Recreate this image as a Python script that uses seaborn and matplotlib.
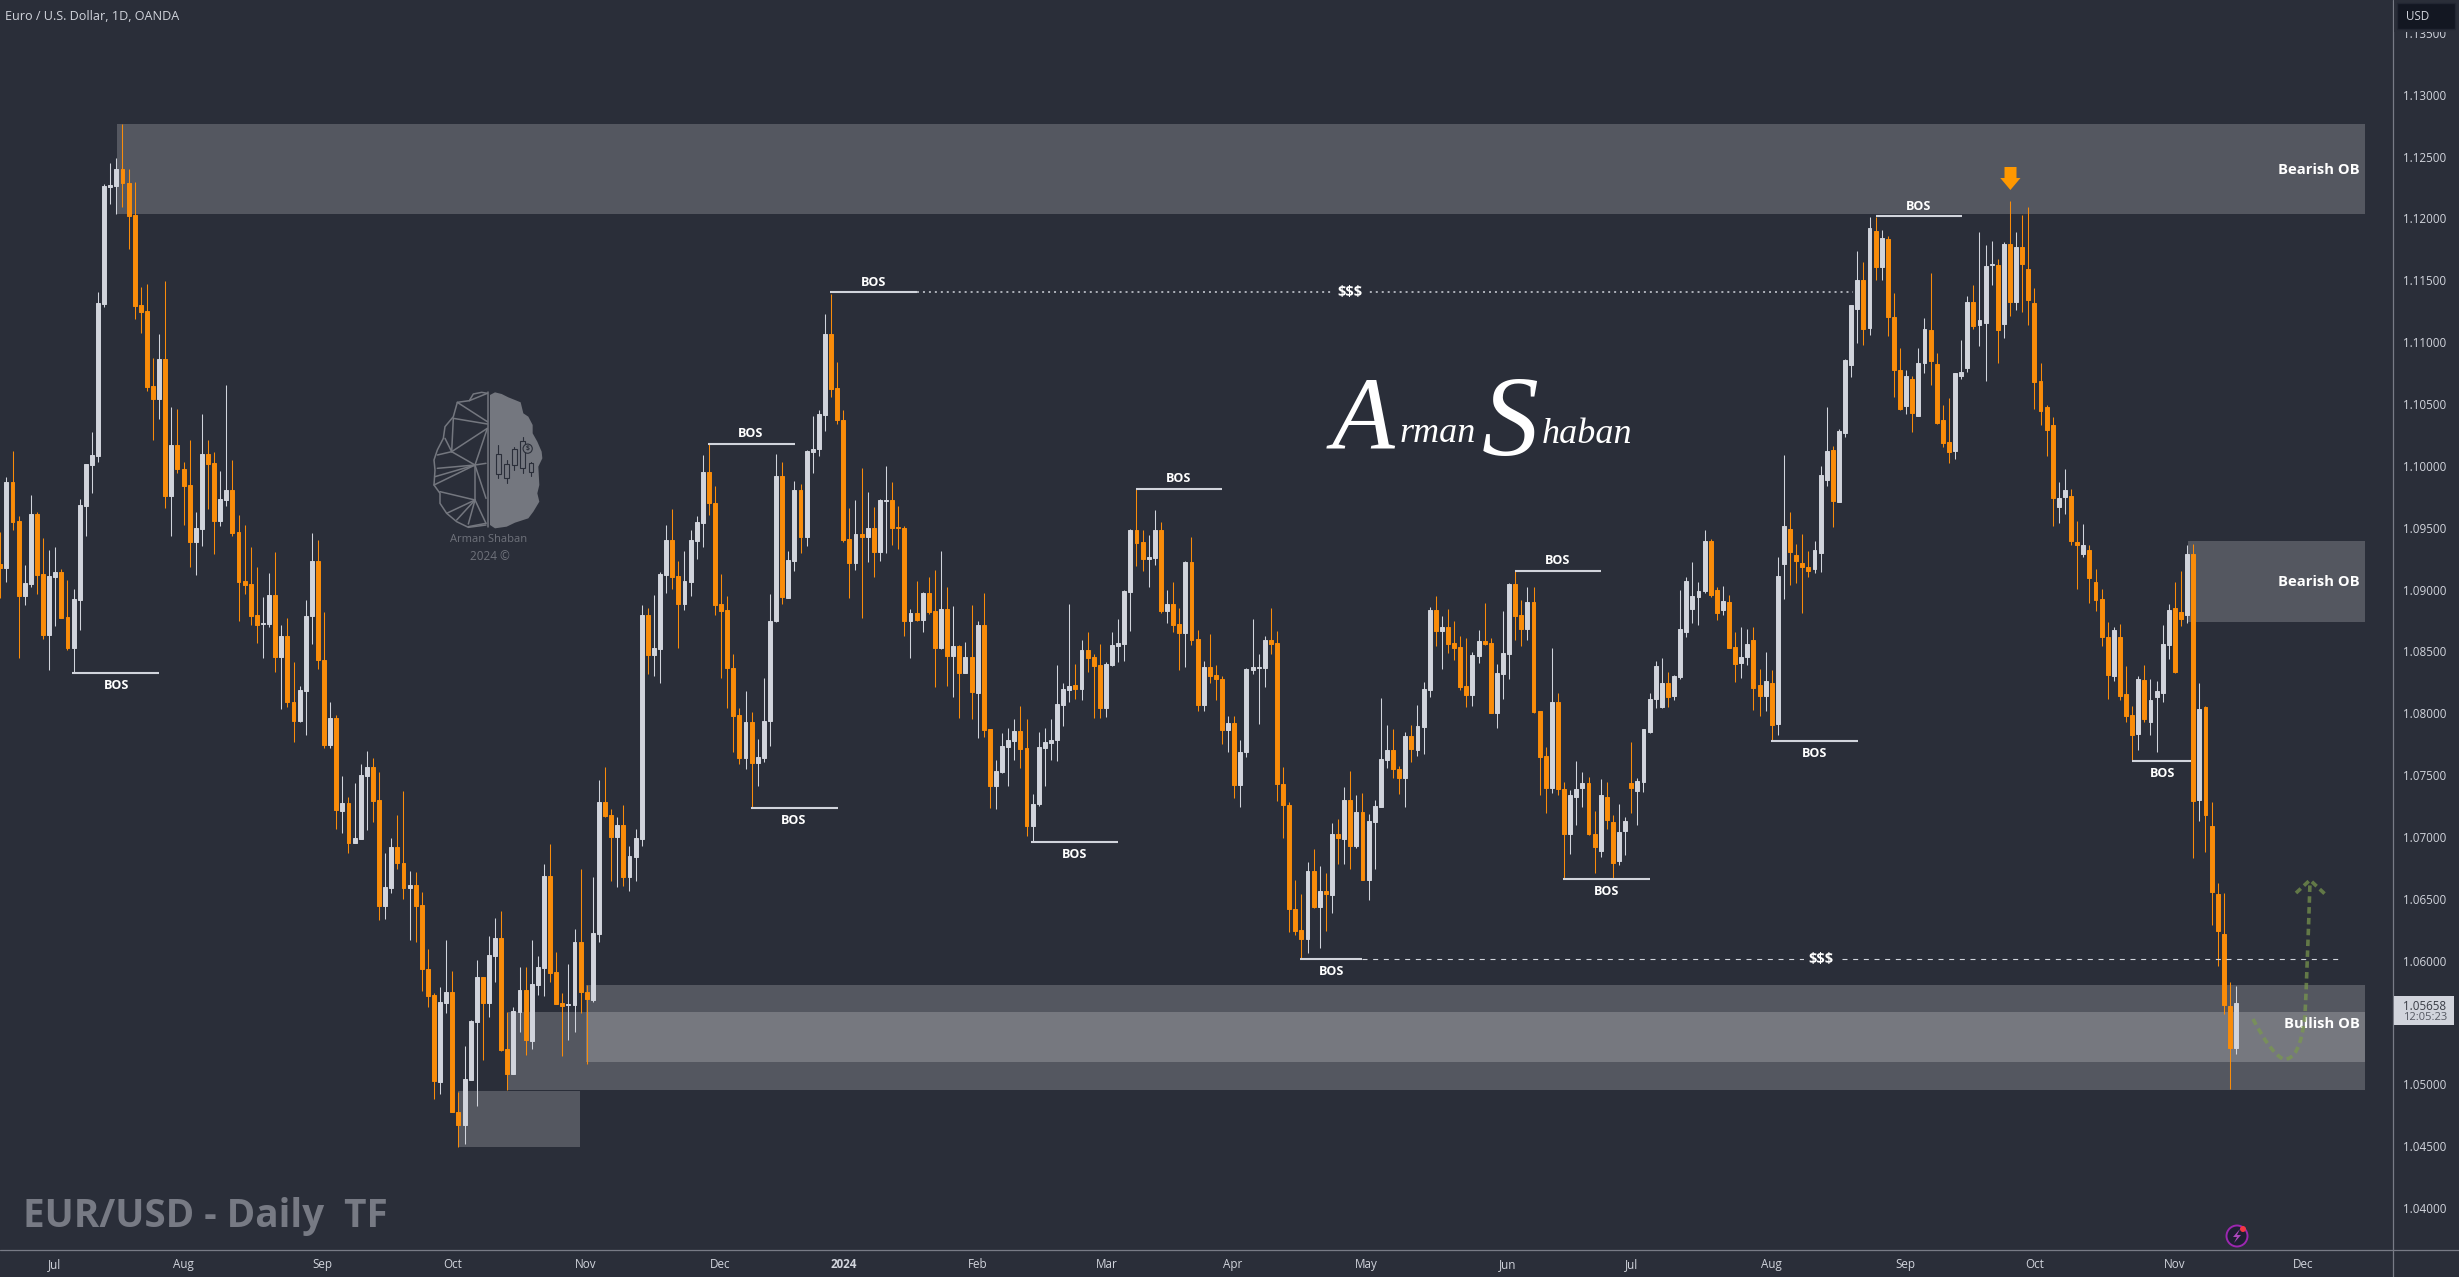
import matplotlib
matplotlib.use("Agg")
import matplotlib.pyplot as plt
import numpy as np
import pandas as pd
import seaborn as sns
from matplotlib.lines import Line2D
from matplotlib.patches import Circle, PathPatch, Polygon, Rectangle
from matplotlib.path import Path
from matplotlib.transforms import Affine2D

# EUR/USD daily candles, left to right
opens = [
    1.09206, 1.09177, 1.09867, 1.09551, 1.08950, 1.09045, 1.09611, 1.09123, 1.08632, 1.09104,
    1.09139, 1.08775, 1.08527, 1.08915, 1.09678, 1.10010, 1.10080, 1.11309, 1.12255, 1.12263,
    1.12400, 1.12284, 1.12028, 1.11298, 1.11252, 1.10646, 1.10543, 1.10861, 1.09759, 1.10166,
    1.09972, 1.09843, 1.09387, 1.09490, 1.10096, 1.10020, 1.09554, 1.09724, 1.09802, 1.09462,
    1.09066, 1.09042, 1.08791, 1.08721, 1.08721, 1.08956, 1.08455, 1.08624, 1.08093, 1.07940,
    1.08183, 1.08783, 1.09231, 1.08427, 1.07747, 1.07963, 1.07213, 1.07276, 1.06951, 1.06986,
    1.07496, 1.07565, 1.07300, 1.06438, 1.06588, 1.06920, 1.06787, 1.06588, 1.06613, 1.06449,
    1.05929, 1.05719, 1.05021, 1.05660, 1.05747, 1.04773, 1.04669, 1.05039, 1.05506, 1.05869,
    1.05660, 1.06037, 1.06180, 1.05286, 1.05084, 1.05587, 1.05761, 1.05353, 1.05806, 1.05943,
    1.06682, 1.05908, 1.05660, 1.05639, 1.05642, 1.06152, 1.05747, 1.05681, 1.06218, 1.07283,
    1.07178, 1.06997, 1.07098, 1.06675, 1.06840, 1.06986, 1.08794, 1.08474, 1.08522, 1.09117,
    1.09402, 1.09107, 1.08884, 1.09063, 1.09395, 1.09539, 1.09951, 1.09699, 1.08881, 1.08833,
    1.08366, 1.07982, 1.07637, 1.07928, 1.07599, 1.07637, 1.07937, 1.08743, 1.09916, 1.08932,
    1.09229, 1.09804, 1.09424, 1.10115, 1.10137, 1.10412, 1.11067, 1.10626, 1.10370, 1.09405,
    1.09213, 1.09450, 1.09421, 1.09501, 1.09302, 1.09718, 1.09728, 1.09507, 1.09501, 1.08749,
    1.08813, 1.08753, 1.08973, 1.08823, 1.08529, 1.08842, 1.08462, 1.08542, 1.08324, 1.08452,
    1.08164, 1.08717, 1.07870, 1.07410, 1.07525, 1.07726, 1.07774, 1.07854, 1.07717, 1.07087,
    1.07263, 1.07720, 1.07758, 1.07781, 1.08068, 1.08190, 1.08225, 1.08196, 1.08510, 1.08452,
    1.08388, 1.08043, 1.08388, 1.08545, 1.08558, 1.08980, 1.09482, 1.09386, 1.09251, 1.09255,
    1.09482, 1.08826, 1.08884, 1.08721, 1.08647, 1.09221, 1.08599, 1.08068, 1.08372, 1.08308,
    1.08276, 1.07867, 1.07925, 1.07420, 1.07690, 1.08350, 1.08366, 1.08366, 1.08592, 1.08565,
    1.07428, 1.07258, 1.06417, 1.06248, 1.06175, 1.06725, 1.06434, 1.06560, 1.06533, 1.07021,
    1.06986, 1.07299, 1.06927, 1.07204, 1.06652, 1.07124, 1.07245, 1.07622, 1.07703, 1.07549,
    1.07479, 1.07816, 1.07703, 1.07892, 1.08188, 1.08835, 1.08665, 1.08698, 1.08565, 1.08533,
    1.08221, 1.08148, 1.08466, 1.08584, 1.08565, 1.08005, 1.08317, 1.08482, 1.09045, 1.08795,
    1.08684, 1.08900, 1.08018, 1.07652, 1.07396, 1.08091, 1.07385, 1.07021, 1.07326, 1.07393,
    1.07434, 1.07024, 1.06886, 1.07320, 1.07118, 1.06806, 1.07051, 1.07434, 1.07372, 1.07447,
    1.07849, 1.08115, 1.08053, 1.08242, 1.08140, 1.08296, 1.08657, 1.08843, 1.08943, 1.08989,
    1.09393, 1.08997, 1.08835, 1.08897, 1.08533, 1.08409, 1.08458, 1.08590, 1.08229, 1.08140,
    1.08242, 1.07913, 1.09207, 1.09487, 1.09280, 1.09216, 1.09179, 1.09164, 1.09297, 1.09886,
    1.10126, 1.09707, 1.10267, 1.10816, 1.11272, 1.11503, 1.11116, 1.11898, 1.11609, 1.11835,
    1.11200, 1.10775, 1.10484, 1.10703, 1.10406, 1.10833, 1.11098, 1.10821, 1.10371, 1.10195,
    1.10123, 1.10726, 1.10792, 1.11324, 1.11142, 1.11156, 1.11624, 1.11624, 1.11148, 1.11791,
    1.11324, 1.11768, 1.11589, 1.11315, 1.10683, 1.10475, 1.10328, 1.09669, 1.09747, 1.09756,
    1.09381, 1.09291, 1.09323, 1.09063, 1.08923, 1.08614, 1.08302, 1.08614, 1.08154, 1.07989,
    1.07829, 1.08266, 1.07933, 1.08134, 1.08162, 1.08554, 1.08847, 1.08815, 1.08795, 1.09291,
    1.07296, 1.08053, 1.07092, 1.06535, 1.06219, 1.05630, 1.05297,
]
highs = [
    1.09468, 1.09907, 1.10120, 1.09595, 1.09198, 1.09764, 1.09630, 1.09414, 1.09320, 1.09347,
    1.09163, 1.09077, 1.09002, 1.09729, 1.10015, 1.10276, 1.11408, 1.12279, 1.12451, 1.12486,
    1.12761, 1.12400, 1.12295, 1.11443, 1.11470, 1.10869, 1.11066, 1.11495, 1.10473, 1.10457,
    1.10031, 1.10209, 1.09627, 1.10419, 1.10209, 1.10112, 1.09958, 1.10654, 1.10047, 1.09603,
    1.09522, 1.09341, 1.09182, 1.08942, 1.09131, 1.09301, 1.08711, 1.08767, 1.08411, 1.08220,
    1.08915, 1.09454, 1.09400, 1.08818, 1.08089, 1.07984, 1.07492, 1.07321, 1.07433, 1.07590,
    1.07694, 1.07642, 1.07527, 1.06874, 1.06993, 1.07178, 1.07370, 1.06728, 1.06717, 1.06553,
    1.06096, 1.05740, 1.05785, 1.06169, 1.05915, 1.04937, 1.05314, 1.05520, 1.06002, 1.05869,
    1.06201, 1.06344, 1.06403, 1.05583, 1.05628, 1.05946, 1.05946, 1.06169, 1.06037, 1.06780,
    1.06944, 1.06072, 1.05740, 1.05974, 1.06253, 1.06745, 1.05800, 1.06675, 1.07461, 1.07565,
    1.07223, 1.07161, 1.07255, 1.06927, 1.07066, 1.08874, 1.08852, 1.08954, 1.09139, 1.09523,
    1.09651, 1.09229, 1.09309, 1.09485, 1.09593, 1.10089, 1.10178, 1.09836, 1.09123, 1.08948,
    1.08478, 1.08046, 1.08177, 1.08011, 1.07790, 1.08286, 1.08964, 1.10092, 1.10035, 1.09309,
    1.09875, 1.09852, 1.10131, 1.10402, 1.10450, 1.11224, 1.11393, 1.10840, 1.10450, 1.09661,
    1.09724, 1.09983, 1.09788, 1.09667, 1.09731, 1.09996, 1.09868, 1.09677, 1.09513, 1.08842,
    1.09069, 1.08980, 1.09101, 1.09155, 1.09315, 1.09021, 1.08868, 1.08548, 1.08573, 1.08874,
    1.08746, 1.08973, 1.07870, 1.07621, 1.07838, 1.07877, 1.07950, 1.08059, 1.07957, 1.07349,
    1.07845, 1.07877, 1.07950, 1.08388, 1.08244, 1.08884, 1.08398, 1.08596, 1.08653, 1.08478,
    1.08558, 1.08411, 1.08660, 1.08762, 1.08996, 1.09491, 1.09817, 1.09482, 1.09437, 1.09641,
    1.09545, 1.08996, 1.09059, 1.08852, 1.09229, 1.09421, 1.08676, 1.08420, 1.08644, 1.08388,
    1.08299, 1.07979, 1.07979, 1.07780, 1.08363, 1.08759, 1.08479, 1.08625, 1.08848, 1.08665,
    1.07563, 1.07285, 1.06652, 1.06536, 1.06795, 1.06900, 1.06768, 1.06706, 1.07110, 1.07143,
    1.07401, 1.07533, 1.07339, 1.07353, 1.07186, 1.07299, 1.08121, 1.07905, 1.07870, 1.07576,
    1.07851, 1.07905, 1.08067, 1.08256, 1.08862, 1.08948, 1.08786, 1.08840, 1.08746, 1.08627,
    1.08606, 1.08498, 1.08673, 1.08894, 1.08611, 1.08396, 1.08830, 1.09051, 1.09153, 1.08916,
    1.09018, 1.09018, 1.08018, 1.07730, 1.08525, 1.08161, 1.07447, 1.07380, 1.07614, 1.07528,
    1.07482, 1.07210, 1.07469, 1.07442, 1.07177, 1.07266, 1.07164, 1.07770, 1.07474, 1.07873,
    1.08161, 1.08423, 1.08450, 1.08336, 1.08309, 1.08997, 1.09104, 1.09226, 1.09064, 1.09482,
    1.09406, 1.09018, 1.09032, 1.08956, 1.08660, 1.08700, 1.08681, 1.08700, 1.08355, 1.08498,
    1.08350, 1.09261, 1.10088, 1.09626, 1.09366, 1.09453, 1.09314, 1.09395, 1.10001, 1.10478,
    1.10160, 1.10296, 1.10867, 1.11301, 1.11739, 1.11647, 1.12008, 1.12008, 1.11907, 1.11858,
    1.11396, 1.10954, 1.10775, 1.10723, 1.10954, 1.11194, 1.11560, 1.10911, 1.10492, 1.10550,
    1.10752, 1.11018, 1.11373, 1.11465, 1.11890, 1.11786, 1.11820, 1.11670, 1.11806, 1.12138,
    1.11887, 1.12031, 1.12089, 1.11436, 1.10830, 1.10492, 1.10391, 1.09866, 1.09978, 1.09814,
    1.09554, 1.09532, 1.09363, 1.09163, 1.09003, 1.08735, 1.08694, 1.08722, 1.08382, 1.08061,
    1.08302, 1.08390, 1.08274, 1.08262, 1.08710, 1.08883, 1.09063, 1.09151, 1.09363, 1.09371,
    1.08242, 1.08061, 1.07280, 1.06627, 1.06547, 1.05826, 1.05798,
]
lows = [
    1.08929, 1.09064, 1.09481, 1.08449, 1.08875, 1.09023, 1.08964, 1.08600, 1.08349, 1.08705,
    1.08767, 1.08511, 1.08328, 1.08673, 1.09433, 1.09778, 1.10034, 1.11287, 1.12117, 1.12036,
    1.12090, 1.11751, 1.11187, 1.11077, 1.10608, 1.10209, 1.10379, 1.09662, 1.09435, 1.09945,
    1.09522, 1.09185, 1.09118, 1.09355, 1.09651, 1.09287, 1.09516, 1.09678, 1.09435, 1.08746,
    1.08964, 1.08713, 1.08570, 1.08449, 1.08700, 1.08336, 1.08031, 1.08053, 1.07770, 1.07932,
    1.07827, 1.08557, 1.08358, 1.07722, 1.07722, 1.07066, 1.07031, 1.06867, 1.06951, 1.06986,
    1.07059, 1.07119, 1.06326, 1.06340, 1.06550, 1.06745, 1.06501, 1.06169, 1.06152, 1.05758,
    1.05628, 1.04885, 1.04920, 1.05576, 1.04773, 1.04491, 1.04519, 1.05039, 1.04826, 1.05199,
    1.05548, 1.05827, 1.05269, 1.04955, 1.05084, 1.05426, 1.05234, 1.05286, 1.05723, 1.05716,
    1.05827, 1.05653, 1.05227, 1.05356, 1.05426, 1.05576, 1.05164, 1.05663, 1.06152, 1.07161,
    1.06648, 1.06595, 1.06606, 1.06567, 1.06648, 1.06927, 1.08318, 1.08302, 1.08244, 1.08973,
    1.09005, 1.08529, 1.08836, 1.08948, 1.09245, 1.09341, 1.09603, 1.08797, 1.08286, 1.08046,
    1.07685, 1.07589, 1.07551, 1.07231, 1.07413, 1.07605, 1.07739, 1.08740, 1.08884, 1.08932,
    1.09149, 1.09293, 1.09354, 1.09945, 1.10083, 1.10284, 1.10553, 1.10338, 1.09386, 1.08932,
    1.09162, 1.08772, 1.09226, 1.09101, 1.09229, 1.09299, 1.09363, 1.09331, 1.08628, 1.08446,
    1.08749, 1.08660, 1.08804, 1.08212, 1.08522, 1.08222, 1.08132, 1.07963, 1.08324, 1.07957,
    1.07803, 1.07806, 1.07231, 1.07228, 1.07515, 1.07413, 1.07621, 1.07557, 1.07007, 1.06959,
    1.07253, 1.07413, 1.07621, 1.07614, 1.07899, 1.08091, 1.08116, 1.08110, 1.08334, 1.07963,
    1.07963, 1.07973, 1.08382, 1.08414, 1.08420, 1.08669, 1.09187, 1.09146, 1.09021, 1.09197,
    1.08813, 1.08730, 1.08660, 1.08350, 1.08372, 1.08554, 1.08021, 1.08021, 1.08244, 1.08110,
    1.07755, 1.07685, 1.07311, 1.07245, 1.07644, 1.08317, 1.07913, 1.08215, 1.08479, 1.07291,
    1.06994, 1.06234, 1.06207, 1.06013, 1.06064, 1.06423, 1.06105, 1.06242, 1.06388, 1.06781,
    1.06781, 1.06741, 1.06908, 1.06652, 1.06490, 1.06741, 1.07245, 1.07555, 1.07474, 1.07347,
    1.07245, 1.07609, 1.07655, 1.07671, 1.08134, 1.08547, 1.08358, 1.08485, 1.08431, 1.08188,
    1.08053, 1.08059, 1.08409, 1.08552, 1.08000, 1.07884, 1.08115, 1.08277, 1.08592, 1.08547,
    1.08592, 1.08000, 1.07339, 1.07196, 1.07353, 1.07339, 1.06665, 1.06862, 1.07097, 1.07245,
    1.07016, 1.06711, 1.06841, 1.07062, 1.06665, 1.06773, 1.06854, 1.07191, 1.07097, 1.07366,
    1.07843, 1.08040, 1.08040, 1.08053, 1.08107, 1.08277, 1.08619, 1.08727, 1.08714, 1.08970,
    1.08943, 1.08754, 1.08795, 1.08530, 1.08255, 1.08282, 1.08390, 1.08026, 1.07978, 1.08018,
    1.07784, 1.07824, 1.08927, 1.09040, 1.09057, 1.08812, 1.09098, 1.09135, 1.09141, 1.09834,
    1.09502, 1.09707, 1.10232, 1.10717, 1.10997, 1.10977, 1.11061, 1.11503, 1.11503, 1.11049,
    1.10559, 1.10449, 1.10420, 1.10270, 1.10400, 1.10752, 1.10657, 1.10342, 1.10154, 1.10024,
    1.10059, 1.10706, 1.10758, 1.11107, 1.10969, 1.10686, 1.11459, 1.10830, 1.11035, 1.11214,
    1.11263, 1.11243, 1.11142, 1.10463, 1.10333, 1.10079, 1.09516, 1.09539, 1.09612, 1.09361,
    1.09005, 1.09263, 1.08891, 1.08823, 1.08542, 1.08114, 1.08262, 1.08110, 1.07933, 1.07613,
    1.07701, 1.07933, 1.07821, 1.07689, 1.08090, 1.08442, 1.08322, 1.08702, 1.08731, 1.06828,
    1.07132, 1.06880, 1.06291, 1.05958, 1.05570, 1.04965, 1.05245,
]
closes = [
    1.09177, 1.09867, 1.09549, 1.08950, 1.09050, 1.09611, 1.09120, 1.08635, 1.09109, 1.09139,
    1.08773, 1.08527, 1.08924, 1.09683, 1.10015, 1.10088, 1.11319, 1.12263, 1.12271, 1.12400,
    1.12284, 1.12023, 1.11295, 1.11247, 1.10640, 1.10543, 1.10861, 1.09759, 1.10166, 1.09972,
    1.09840, 1.09387, 1.09495, 1.10096, 1.10018, 1.09557, 1.09732, 1.09802, 1.09460, 1.09064,
    1.09039, 1.08789, 1.08716, 1.08729, 1.08956, 1.08457, 1.08624, 1.08093, 1.07940, 1.08185,
    1.08783, 1.09231, 1.08427, 1.07747, 1.07963, 1.07216, 1.07276, 1.06951, 1.06990, 1.07503,
    1.07565, 1.07293, 1.06438, 1.06595, 1.06920, 1.06787, 1.06588, 1.06613, 1.06445, 1.05929,
    1.05716, 1.05025, 1.05667, 1.05747, 1.04773, 1.04669, 1.05046, 1.05513, 1.05869, 1.05660,
    1.06044, 1.06180, 1.05279, 1.05087, 1.05592, 1.05761, 1.05356, 1.05813, 1.05946, 1.06682,
    1.05904, 1.05653, 1.05635, 1.05646, 1.06152, 1.05747, 1.05688, 1.06225, 1.07283, 1.07171,
    1.06997, 1.07098, 1.06679, 1.06843, 1.06993, 1.08794, 1.08474, 1.08526, 1.09123, 1.09402,
    1.09104, 1.08887, 1.09066, 1.09402, 1.09546, 1.09951, 1.09696, 1.08877, 1.08829, 1.08363,
    1.07979, 1.07637, 1.07928, 1.07599, 1.07643, 1.07941, 1.08749, 1.09916, 1.08938, 1.09235,
    1.09804, 1.09427, 1.10121, 1.10140, 1.10418, 1.11067, 1.10623, 1.10367, 1.09402, 1.09216,
    1.09450, 1.09421, 1.09501, 1.09306, 1.09724, 1.09728, 1.09501, 1.09498, 1.08749, 1.08813,
    1.08756, 1.08973, 1.08817, 1.08529, 1.08842, 1.08462, 1.08542, 1.08327, 1.08452, 1.08171,
    1.08717, 1.07867, 1.07413, 1.07531, 1.07733, 1.07781, 1.07854, 1.07713, 1.07090, 1.07269,
    1.07726, 1.07765, 1.07787, 1.08075, 1.08196, 1.08222, 1.08200, 1.08510, 1.08449, 1.08382,
    1.08043, 1.08395, 1.08548, 1.08564, 1.08989, 1.09482, 1.09379, 1.09251, 1.09264, 1.09482,
    1.08829, 1.08884, 1.08714, 1.08650, 1.09221, 1.08596, 1.08068, 1.08372, 1.08305, 1.08273,
    1.07867, 1.07925, 1.07423, 1.07690, 1.08358, 1.08371, 1.08377, 1.08592, 1.08563, 1.07425,
    1.07256, 1.06415, 1.06242, 1.06175, 1.06725, 1.06436, 1.06563, 1.06536, 1.07024, 1.06989,
    1.07299, 1.06930, 1.07204, 1.06652, 1.07129, 1.07250, 1.07628, 1.07703, 1.07547, 1.07479,
    1.07816, 1.07708, 1.07897, 1.08196, 1.08835, 1.08668, 1.08698, 1.08563, 1.08530, 1.08215,
    1.08148, 1.08471, 1.08584, 1.08560, 1.08005, 1.08323, 1.08485, 1.09045, 1.08789, 1.08684,
    1.08900, 1.08013, 1.07649, 1.07398, 1.08091, 1.07385, 1.07021, 1.07339, 1.07388, 1.07436,
    1.07021, 1.06922, 1.07339, 1.07140, 1.06792, 1.07040, 1.07129, 1.07398, 1.07452, 1.07873,
    1.08115, 1.08382, 1.08242, 1.08134, 1.08301, 1.08681, 1.09069, 1.08948, 1.08989, 1.09393,
    1.08959, 1.08813, 1.08908, 1.08530, 1.08396, 1.08455, 1.08560, 1.08207, 1.08142, 1.08261,
    1.07908, 1.09110, 1.09516, 1.09303, 1.09231, 1.09182, 1.09153, 1.09317, 1.09923, 1.10117,
    1.09713, 1.10281, 1.10859, 1.11301, 1.11503, 1.11110, 1.11924, 1.11604, 1.11840, 1.11200,
    1.10778, 1.10463, 1.10723, 1.10429, 1.10830, 1.11107, 1.10847, 1.10348, 1.10186, 1.10111,
    1.10749, 1.10758, 1.11324, 1.11133, 1.11179, 1.11615, 1.11633, 1.11101, 1.11794, 1.11327,
    1.11768, 1.11633, 1.11344, 1.10674, 1.10446, 1.10293, 1.09744, 1.09744, 1.09805, 1.09395,
    1.09363, 1.09363, 1.09095, 1.08915, 1.08614, 1.08310, 1.08670, 1.08142, 1.07981, 1.07821,
    1.08274, 1.07953, 1.08110, 1.08178, 1.08562, 1.08835, 1.08330, 1.08763, 1.09291, 1.07292,
    1.08033, 1.07180, 1.06559, 1.06239, 1.05638, 1.05297, 1.05658,
]

price_ticks = [1.04, 1.045, 1.05, 1.055, 1.06, 1.065, 1.07, 1.075, 1.08, 1.085, 1.09, 1.095,
               1.10, 1.105, 1.11, 1.115, 1.12, 1.125, 1.13, 1.135]
month_labels = ["Jul", "Aug", "Sep", "Oct", "Nov", "Dec", "2024", "Feb", "Mar", "Apr", "May",
                "Jun", "Jul", "Aug", "Sep", "Oct", "Nov", "Dec"]
month_bars = [8.9, 30, 52.8, 74, 95.9, 117.9, 138, 160, 181.2, 201.7, 223.7, 246.8, 267, 290,
              311.8, 333, 356, 377]

# order blocks: first bar, last bar, top price, bottom price
zone_start = [19.1, 358.1, 95.9, 83.05, 75]
zone_end = [387.1, 387.1, 387.1, 387.1, 94.9]
zone_top = [1.12764, 1.09393, 1.05807, 1.05586, 1.04949]
zone_bottom = [1.12036, 1.08735, 1.05178, 1.04957, 1.04492]

# break of structure lines
bos_start = [11.8, 122.9, 115.8, 135.9, 185.9, 168.8, 212.8, 247.9, 255.9, 289.9, 307, 348.9]
bos_end = [26, 137.1, 130.1, 150, 200, 183, 223, 262.1, 270, 304.1, 321.1, 358.6]
bos_level = [1.08328, 1.07237, 1.10179, 1.11403, 1.09815, 1.06959, 1.06014, 1.09153, 1.06663,
             1.07776, 1.12017, 1.07617]
bos_text_bar = [19, 129.9, 122.9, 142.9, 192.9, 175.9, 218, 255, 263, 297, 314, 354]
bos_text_price = [1.08227, 1.07133, 1.10265, 1.11486, 1.0990, 1.0686, 1.05915, 1.09237, 1.06561,
                  1.07675, 1.12099, 1.07515]

BG = "#2a2e39"
BULL = "#d1d4dc"
BEAR = "#f98c0a"
TEXT = "#d1d4dc"
AXIS = "#787b86"
GREY = "#74777f"
W, H = 2459, 1277

sns.set_theme(style="dark", rc={"axes.facecolor": BG, "figure.facecolor": BG, "savefig.facecolor": BG})
plt.rcParams["font.family"] = ["Open Sans", "DejaVu Sans"]
SCRIPT = ["Liberation Serif", "DejaVu Serif"]

df = pd.DataFrame({"bar": np.arange(len(opens)), "open": opens, "high": highs, "low": lows, "close": closes})
df["bottom"] = df[["open", "close"]].min(axis=1)
df["body"] = (df["close"] - df["open"]).abs()
df["up"] = df["close"] >= df["open"]

fig = plt.figure(figsize=(W / 100, H / 100), dpi=100)
ax = fig.add_axes([0, (H - 1249.5) / H, 2393 / W, 1249.5 / H])
# everything that is not on the price scale is placed in picture pixels
px = Affine2D().scale(1, -1).translate(0, H)

for start, end, top, bottom in zip(zone_start, zone_end, zone_top, zone_bottom):
    ax.fill_between([start, end], bottom, top, color="white", alpha=0.2, linewidth=0, zorder=1)

for is_up, colour in [(True, BULL), (False, BEAR)]:
    part = df[df["up"] == is_up]
    ax.vlines(part["bar"], part["low"], part["high"], color=colour, linewidth=0.75, zorder=2)
    sns.barplot(data=part, x="bar", y="body", bottom=part["bottom"].to_numpy(), native_scale=True,
                width=0.64, color=colour, saturation=1, errorbar=None, edgecolor=colour,
                linewidth=0.7, zorder=3, ax=ax)

ax.set_xlim(-0.05, 391.7)
ax.set_ylim(1.03665, 1.13766)
ax.set_xlabel("")
ax.set_ylabel("")
ax.set_xticks(month_bars)
ax.set_xticklabels(month_labels)
ax.set_yticks(price_ticks)
# the 1.05500 label sits under the last price tag
ax.set_yticklabels(["" if p == 1.055 else f"{p:.5f}" for p in price_ticks])
ax.tick_params(axis="x", length=0, pad=6, labelsize=8.4, labelcolor=TEXT)
ax.tick_params(axis="y", length=0, pad=7, labelsize=8.4, labelcolor=TEXT, left=False, labelleft=False,
               right=True, labelright=True)
for label in ax.get_xticklabels():
    if label.get_text() == "2024":
        label.set_fontweight("bold")
for spine in ax.spines.values():
    spine.set_visible(False)
ax.grid(False)

for start, end, level, tx, ty in zip(bos_start, bos_end, bos_level, bos_text_bar, bos_text_price):
    ax.hlines(level, start, end, color=BULL, linewidth=1.5, zorder=4)
    ax.text(tx, ty, "BOS", color="white", fontsize=9, fontweight="bold", ha="center", va="center", zorder=5)

# liquidity lines
ax.hlines(1.11403, 150, 303.3, color=BULL, linewidth=1.1, linestyle=(0, (1.3, 2.6)), zorder=4)
ax.text(221, 1.11403, "$$$", color="white", fontsize=10.5, fontweight="bold", ha="center", va="center",
        zorder=5, bbox=dict(facecolor=BG, edgecolor="none", pad=3))
ax.hlines(1.06014, 223, 383, color=BULL, linewidth=0.8, linestyle=(0, (4.5, 5.1)), zorder=4)
ax.text(298, 1.06014, "$$$", color="white", fontsize=10.5, fontweight="bold", ha="center", va="center",
        zorder=5, bbox=dict(facecolor=BG, edgecolor="none", pad=3))

ax.text(386.2, 1.12395, "Bearish OB", color="white", fontsize=10.6, fontweight="bold", ha="right", va="center", zorder=5)
ax.text(386.2, 1.09062, "Bearish OB", color="white", fontsize=10.6, fontweight="bold", ha="right", va="center", zorder=5)
ax.text(386.2, 1.05488, "Bullish OB", color="white", fontsize=10.6, fontweight="bold", ha="right", va="center", zorder=5)

# axis frame lines run to the edge of the picture
fig.add_artist(Line2D([0, W], [1249.5, 1249.5], color=AXIS, linewidth=0.9, transform=px))
fig.add_artist(Line2D([2393, 2393], [0, H], color=AXIS, linewidth=0.9, transform=px))

# header and watermark
fig.text(5, 16, "Euro / U.S. Dollar, 1D, OANDA", color=TEXT, fontsize=9.1, va="center", transform=px)
fig.text(23, 1227, "EUR/USD - Daily  TF", color="#777a84", fontsize=27.8, fontweight="bold",
         va="baseline", transform=px)

# currency box over the top price label
fig.add_artist(Rectangle((2394, 0), 65, 31.5, facecolor=BG, edgecolor="none", transform=px, zorder=5))
fig.add_artist(Rectangle((2397, 3), 58, 26, facecolor="#131722", edgecolor="#222632", linewidth=1, transform=px, zorder=6))
fig.text(2406, 17, "USD", color=TEXT, fontsize=8.4, va="center", transform=px, zorder=7)

# last price tag
fig.add_artist(Rectangle((2394, 995.5), 60, 29.5, facecolor=BULL, edgecolor="none", transform=px, zorder=5))
fig.text(2403, 1006, "1.05658", color="#3a3d46", fontsize=8.4, va="center", transform=px, zorder=7)
fig.text(2403, 1018, "12:05:23", color="#555862", fontsize=8.0, va="center", transform=px, zorder=7)

# orange marker over the top
fig.add_artist(Polygon([(2004.5, 167), (2016.5, 167), (2016.5, 178), (2020.5, 178), (2010.4, 190), (2000.3, 178), (2004.5, 178)],
                       closed=True, facecolor="#ff9800", edgecolor="none", transform=px, zorder=6))

# projected path, green dashed
green = (0.48, 0.60, 0.30, 0.7)
route = Path([(2253, 1019), (2270, 1052), (2283, 1059), (2300, 1062), (2305, 1015), (2307, 976), (2310, 882)],
             [Path.MOVETO, Path.CURVE3, Path.CURVE3, Path.CURVE3, Path.CURVE3, Path.CURVE3, Path.CURVE3])
fig.add_artist(PathPatch(route, fill=False, edgecolor=green, linewidth=2.6, linestyle=(0, (1.8, 1.2)), transform=px, zorder=6))
fig.add_artist(Line2D([2296, 2310, 2326], [893, 880, 895], color=green, linewidth=2.6, linestyle=(0, (1.8, 1.2)), transform=px, zorder=6))

# small alert icon
fig.add_artist(Circle((2237, 1236), 10.5, facecolor="#1f1f33", edgecolor="#9c27b0", linewidth=1.4, transform=px, zorder=6))
fig.add_artist(Polygon([(2240, 1229), (2233, 1237), (2237, 1237), (2234, 1243), (2241, 1235), (2237, 1235)],
                       closed=True, facecolor="#ab47bc", edgecolor="none", transform=px, zorder=7))
fig.add_artist(Circle((2243, 1229), 3, facecolor="#f23645", edgecolor="none", transform=px, zorder=8))

# signature
for piece, x, y, size in [("A", 1332, 448, 74), ("rman", 1400, 442, 26), ("S", 1482, 455, 82), ("haban", 1542, 443, 26)]:
    fig.text(x, y, piece, color="white", fontsize=size, family=SCRIPT, style="italic", va="baseline", transform=px)


# brain logo, outlined half and filled half
def logo(x, y):
    return (400 + x / 3, 370 + y / 3)


fill_half = [(270, 75), (285, 67), (305, 72), (325, 82), (345, 90), (362, 97), (370, 130), (385, 140), (398, 165),
             (398, 190), (412, 215), (425, 245), (427, 265), (415, 290), (418, 345), (412, 370), (418, 395),
             (400, 425), (385, 445), (345, 458), (320, 470), (285, 475), (270, 465)]
fig.add_artist(Polygon([logo(*p) for p in fill_half], closed=True, facecolor=GREY, edgecolor="none", transform=px))
outline = [(262, 70), (245, 67), (220, 72), (208, 92), (172, 97), (160, 140), (135, 170), (130, 205), (112, 240),
           (102, 270), (105, 300), (102, 345), (120, 370), (120, 400), (140, 430), (170, 455), (205, 472), (258, 465)]
mesh = [((265, 67), (265, 470)), ((172, 97), (262, 155)), ((208, 92), (262, 70)), ((160, 145), (262, 162)),
        ((160, 145), (155, 245)), ((262, 175), (155, 245)), ((155, 245), (225, 285)), ((155, 245), (112, 255)),
        ((155, 245), (135, 205)), ((225, 285), (262, 175)), ((225, 285), (258, 280)), ((225, 285), (105, 320)),
        ((225, 285), (102, 345)), ((225, 285), (225, 390)), ((225, 285), (258, 385)), ((225, 390), (120, 365)),
        ((225, 390), (140, 430)), ((225, 390), (170, 450)), ((225, 390), (205, 462)), ((225, 390), (258, 460)),
        ((205, 470), (258, 460)), ((225, 285), (112, 295))]
xs, ys = zip(*[logo(*p) for p in outline])
fig.add_artist(Line2D(xs, ys, color=GREY, linewidth=1.1, transform=px))
for a, b in mesh:
    fig.add_artist(Line2D(*zip(logo(*a), logo(*b)), color=GREY, linewidth=1.1, transform=px))
for cx, top, bottom, up, low in [(295, 252, 312, 225, 325), (320, 283, 325, 270, 338), (343, 238, 285, 230, 300),
                                 (368, 213, 295, 200, 310), (393, 278, 305, 275, 318)]:
    fig.add_artist(Line2D(*zip(logo(cx, up), logo(cx, low)), color=BG, linewidth=0.8, transform=px, zorder=3))
    fig.add_artist(Rectangle(logo(cx - 7, top), 14 / 3, (bottom - top) / 3, facecolor=GREY, edgecolor=BG, linewidth=0.8, transform=px, zorder=3))
fig.add_artist(Circle(logo(383, 236), 4.6, facecolor=GREY, edgecolor=BG, linewidth=0.8, transform=px, zorder=4))
fig.text(*logo(383, 236), "$", color=BG, fontsize=5, fontweight="bold", ha="center", va="center", transform=px, zorder=5)
fig.text(489, 539, "Arman Shaban", color="#6f727b", fontsize=8, ha="center", va="center", transform=px)
fig.text(490, 557, "2024 ©", color="#6f727b", fontsize=8.5, ha="center", va="center", transform=px)

fig.savefig("out.png", dpi=100)
plt.close(fig)
